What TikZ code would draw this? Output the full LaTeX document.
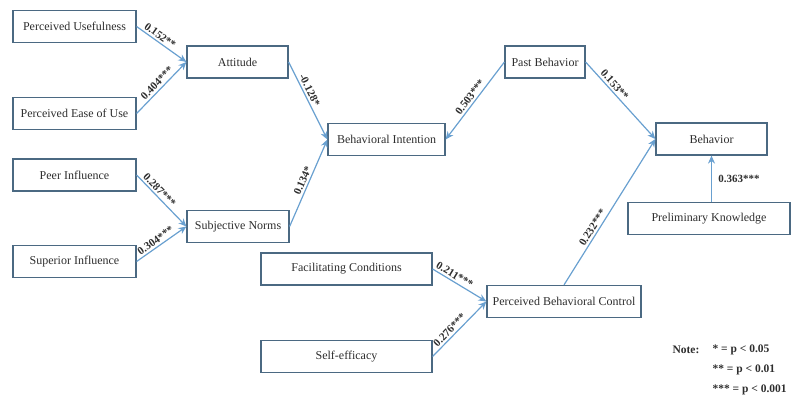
\documentclass[tikz,border=0pt]{standalone}
\usepackage{fontspec}
\setmainfont{Liberation Serif}
\usetikzlibrary{arrows.meta}
\definecolor{boxline}{RGB}{75,105,130}
\definecolor{pathline}{RGB}{105,160,208}
\definecolor{txt}{RGB}{45,45,45}

\begin{document}
\begin{tikzpicture}[x=1pt,y=-1pt,
		box/.style={draw=boxline,line width=1.2pt,rectangle,minimum height=32pt,inner sep=0pt,text=txt,font=\fontsize{12}{14}\selectfont},
		path/.style={draw=pathline,line width=1.2pt,-{Stealth[length=8pt,width=7pt]}},
		coef/.style={sloped,above,inner sep=2pt,text=txt,font=\bfseries\fontsize{11}{13}\selectfont},
		notetext/.style={anchor=west,text=txt,font=\bfseries\fontsize{11.5}{13}\selectfont}]
	\useasboundingbox (0,0) rectangle (791,398);
	% predictors of attitude and subjective norms
	\node[box,minimum width=123pt] (pu) at (74.5,26.5) {Perceived Usefulness};
	\node[box,minimum width=123pt] (peu) at (74.5,113.5) {Perceived Ease of Use};
	\node[box,minimum width=123pt] (peer) at (74.5,175) {Peer Influence};
	\node[box,minimum width=123pt] (sup) at (74.5,261.5) {Superior Influence};
	\node[box,minimum width=101pt] (att) at (237.5,62) {Attitude};
	\node[box,minimum width=102pt] (sn) at (238,226.5) {Subjective Norms};
	\node[box,minimum width=117pt] (bi) at (386.5,139.5) {Behavioral Intention};
	\node[box,minimum width=80pt] (pb) at (545,62) {Past Behavior};
	\node[box,minimum width=111pt] (beh) at (711.5,139) {Behavior};
	\node[box,minimum width=162pt] (pk) at (709,218.5) {Preliminary Knowledge};
	\node[box,minimum width=171pt] (fc) at (346.5,269) {Facilitating Conditions};
	\node[box,minimum width=171pt] (se) at (346.5,356.5) {Self-efficacy};
	\node[box,minimum width=154pt] (pbc) at (564,301.5) {Perceived Behavioral Control};

	\draw[path] (pu.east) -- node[coef,pos=0.4] {0.152**} (att.west);
	\draw[path] (peu.east) -- node[coef,pos=0.5] {0.404***} (att.west);
	\draw[path] (peer.east) -- node[coef,pos=0.37] {0.287***} (sn.west);
	\draw[path] (sup.east) -- node[coef,pos=0.45] {0.304***} (sn.west);
	\draw[path] (att.east) -- node[coef,pos=0.4] {-0.128*} (bi.west);
	\draw[path] (sn.east) -- node[coef,pos=0.5] {0.134*} (bi.west);
	\draw[path] (pb.west) -- node[coef,pos=0.5] {0.503***} (bi.east);
	\draw[path] (pb.east) -- node[coef,pos=0.35] {0.153**} (beh.west);
	\draw[path] (pbc.north) -- node[coef,pos=0.37] {0.232***} (beh.west);
	\draw[path] (pk.north -| beh.south) -- node[right,xshift=3pt,text=txt,font=\bfseries\fontsize{11}{13}\selectfont] {0.363***} (beh.south);
	\draw[path] (fc.east) -- node[coef,pos=0.35] {0.211***} (pbc.west);
	\draw[path] (se.east) -- node[coef,pos=0.4] {0.276***} (pbc.west);

	% significance levels
	\node[notetext] (note) at (669,350) {Note:};
	\node[notetext] (n1) at (709,350) {* = p < 0.05};
	\node[notetext] (n2) at (709,370) {** = p < 0.01};
	\node[notetext] (n3) at (709,390) {*** = p < 0.001};
\end{tikzpicture}
\end{document}
